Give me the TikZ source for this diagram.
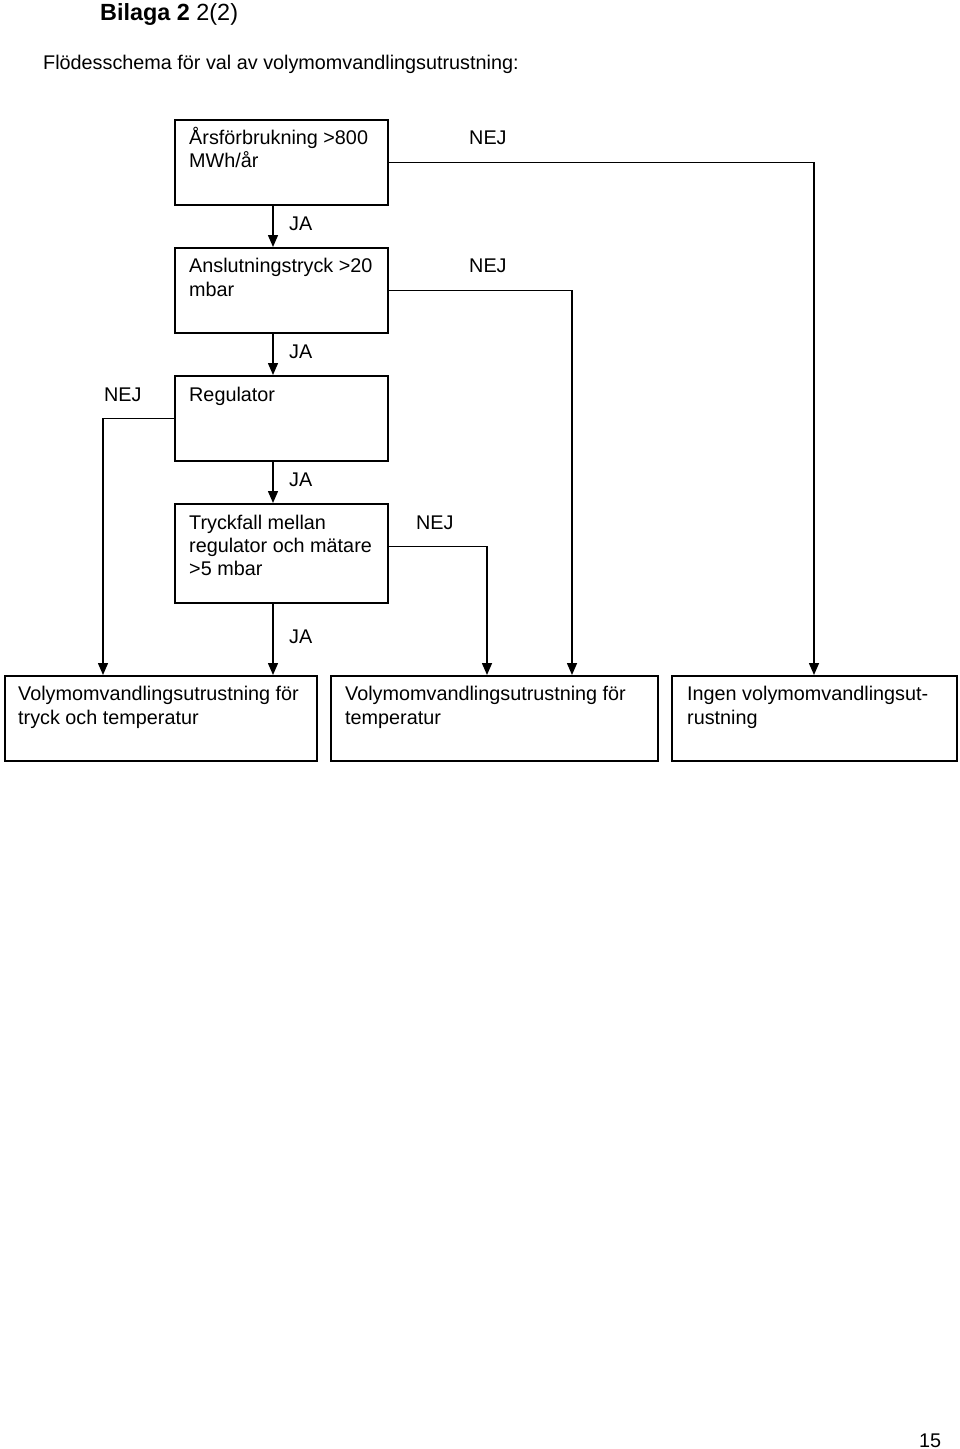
\documentclass[tikz,border=0pt]{standalone}
\usepackage{fontspec}
\setmainfont{Liberation Sans}
\usetikzlibrary{arrows.meta}
\begin{document}
\begin{tikzpicture}[x=1pt,y=-1pt,
  box/.style={draw,line width=1.5pt,rectangle,anchor=north west,inner sep=0pt},
  txt/.style={anchor=base west,inner sep=0pt,font=\fontsize{19.8}{23.5}\selectfont},
  conn/.style={line width=1.5pt},
  arr/.style={line width=1.5pt,-{Triangle[length=12pt,width=10pt]}}]
\useasboundingbox (0,0) rectangle (960,1449);
% title
\node[anchor=base west,inner sep=0pt,font=\fontsize{23.4}{28}\selectfont] (title) at (100,20) {\textbf{Bilaga 2} 2(2)};
\node[txt] (sub) at (43,69) {Flödesschema för val av volymomvandlingsutrustning:};
% boxes
\node[box,minimum width=213pt,minimum height=85pt] (b1) at (174,119) {};
\node[box,minimum width=213pt,minimum height=85pt] (b2) at (174,247) {};
\node[box,minimum width=213pt,minimum height=85pt] (b3) at (174,375) {};
\node[box,minimum width=213pt,minimum height=99pt] (b4) at (174,503) {};
\node[box,minimum width=312pt,minimum height=85pt] (bA) at (4,675) {};
\node[box,minimum width=327pt,minimum height=85pt] (bB) at (330,675) {};
\node[box,minimum width=285pt,minimum height=85pt] (bC) at (671,675) {};
% box texts
\node[txt] (t1a) at (189,144) {Årsförbrukning >800};
\node[txt] (t1b) at (189,167) {MWh/år};
\node[txt] (t2a) at (189,272) {Anslutningstryck >20};
\node[txt] (t2b) at (189,296) {mbar};
\node[txt] (t3a) at (189,401) {Regulator};
\node[txt] (t4a) at (189,529) {Tryckfall mellan};
\node[txt] (t4b) at (189,552) {regulator och mätare};
\node[txt] (t4c) at (189,575) {>5 mbar};
\node[txt] (tAa) at (18,700) {Volymomvandlingsutrustning för};
\node[txt] (tAb) at (18,724) {tryck och temperatur};
\node[txt] (tBa) at (345,700) {Volymomvandlingsutrustning för};
\node[txt] (tBb) at (345,724) {temperatur};
\node[txt] (tCa) at (687,700) {Ingen volymomvandlingsut-};
\node[txt] (tCb) at (687,724) {rustning};
% labels
\node[txt] (ja1) at (289,230) {JA};
\node[txt] (ja2) at (289,358) {JA};
\node[txt] (ja3) at (289,486) {JA};
\node[txt] (ja4) at (289,643) {JA};
\node[txt] (nej1) at (469,144) {NEJ};
\node[txt] (nej2) at (469,272) {NEJ};
\node[txt] (nej3) at (104,401) {NEJ};
\node[txt] (nej4) at (416,529) {NEJ};
% page number
\node[txt] (page) at (919,1447) {15};
% connector end points
\coordinate (eA1) at (103,675);
\coordinate (eA2) at (273,675);
\coordinate (eB1) at (487,675);
\coordinate (eB2) at (572,675);
\coordinate (eC) at (814,675);
% connectors
\draw[arr] (b1.south -| 273,0) -- (b2.north -| 273,0);
\draw[arr] (b2.south -| 273,0) -- (b3.north -| 273,0);
\draw[arr] (b3.south -| 273,0) -- (b4.north -| 273,0);
\draw[arr] (b4.south -| 273,0) -- (eA2);
\draw[arr] (b1.east) -| (eC);
\draw[arr] (b2.east) -| (eB2);
\draw[arr] (b3.west) -| (eA1);
\draw[arr] ([yshift=7pt]b4.east) -| (eB1);
\end{tikzpicture}
\end{document}
